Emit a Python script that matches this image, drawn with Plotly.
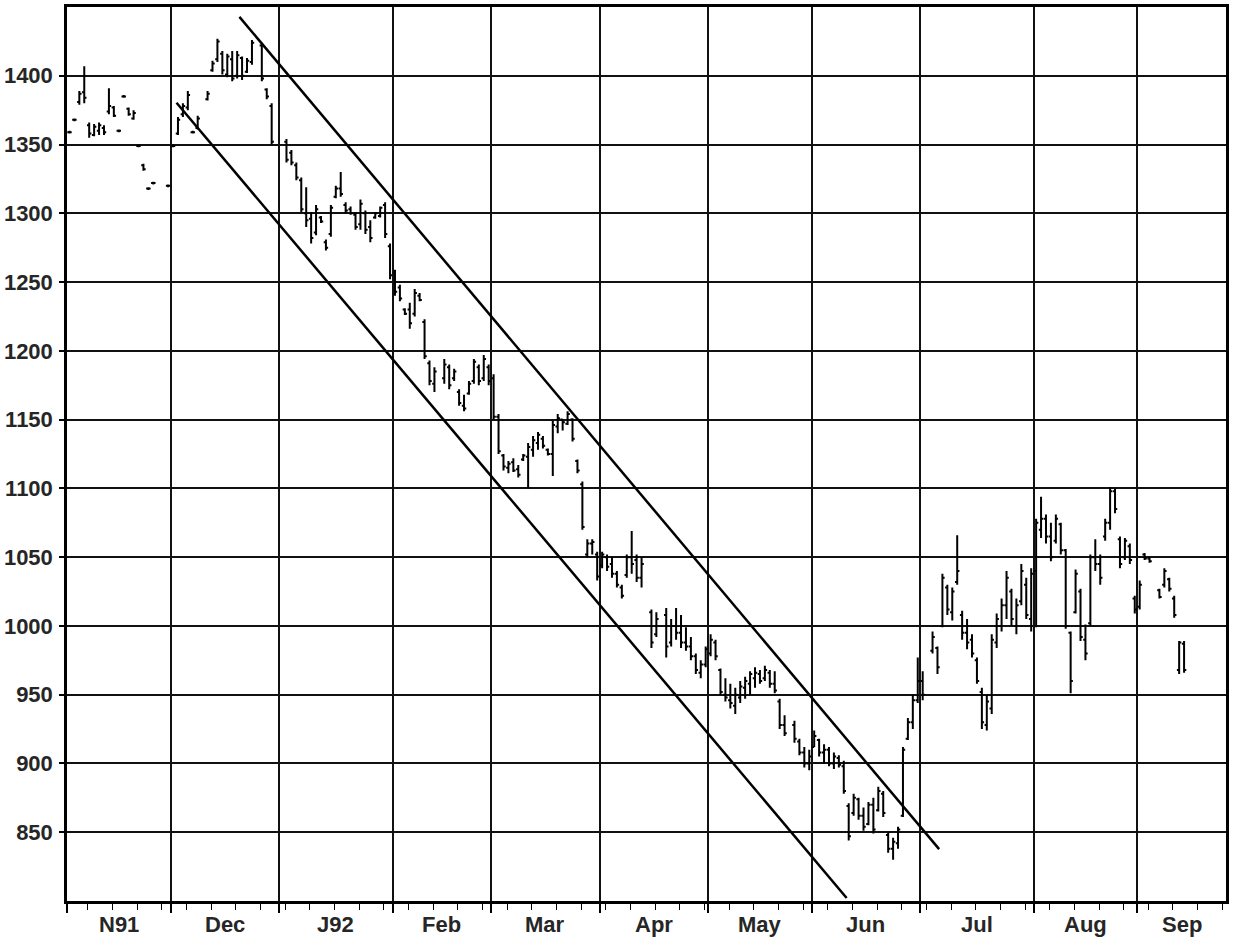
import plotly.graph_objects as go

# ---- daily bars (date, open, high, low, close) ----
dates = [
    # Nov 1991
    "1991-11-01", "1991-11-04", "1991-11-05", "1991-11-06", "1991-11-07", "1991-11-08", "1991-11-11",
    "1991-11-12", "1991-11-13", "1991-11-14", "1991-11-15", "1991-11-18", "1991-11-19", "1991-11-20",
    "1991-11-21", "1991-11-22", "1991-11-25", "1991-11-26", "1991-11-29",
    # Dec 1991
    "1991-12-02", "1991-12-03", "1991-12-04", "1991-12-05", "1991-12-06", "1991-12-09", "1991-12-11",
    "1991-12-12", "1991-12-13", "1991-12-16", "1991-12-17", "1991-12-18", "1991-12-19", "1991-12-20",
    "1991-12-23", "1991-12-24", "1991-12-26", "1991-12-27", "1991-12-30",
    # Jan 1992
    "1992-01-02", "1992-01-03", "1992-01-06", "1992-01-07", "1992-01-08", "1992-01-09", "1992-01-10",
    "1992-01-13", "1992-01-14", "1992-01-15", "1992-01-16", "1992-01-17", "1992-01-20", "1992-01-21",
    "1992-01-22", "1992-01-23", "1992-01-24", "1992-01-27", "1992-01-28", "1992-01-29", "1992-01-30",
    "1992-01-31",
    # Feb 1992
    "1992-02-03", "1992-02-04", "1992-02-05", "1992-02-06", "1992-02-07", "1992-02-10", "1992-02-11",
    "1992-02-12", "1992-02-13", "1992-02-17", "1992-02-18", "1992-02-19", "1992-02-20", "1992-02-21",
    "1992-02-24", "1992-02-25", "1992-02-26", "1992-02-27", "1992-02-28",
    # Mar 1992
    "1992-03-02", "1992-03-03", "1992-03-04", "1992-03-05", "1992-03-06", "1992-03-09", "1992-03-10",
    "1992-03-11", "1992-03-12", "1992-03-13", "1992-03-16", "1992-03-17", "1992-03-18", "1992-03-19",
    "1992-03-20", "1992-03-23", "1992-03-24", "1992-03-25", "1992-03-26", "1992-03-27", "1992-03-30",
    "1992-03-31",
    # Apr 1992
    "1992-04-01", "1992-04-02", "1992-04-03", "1992-04-06", "1992-04-07", "1992-04-08", "1992-04-09",
    "1992-04-10", "1992-04-13", "1992-04-15", "1992-04-16", "1992-04-20", "1992-04-21", "1992-04-22",
    "1992-04-23", "1992-04-24", "1992-04-27", "1992-04-28", "1992-04-29", "1992-04-30",
    # May 1992
    "1992-05-01", "1992-05-04", "1992-05-05", "1992-05-06", "1992-05-07", "1992-05-08", "1992-05-11",
    "1992-05-12", "1992-05-13", "1992-05-14", "1992-05-15", "1992-05-18", "1992-05-19", "1992-05-20",
    "1992-05-21", "1992-05-22", "1992-05-26", "1992-05-27", "1992-05-28", "1992-05-29",
    # Jun 1992
    "1992-06-01", "1992-06-02", "1992-06-03", "1992-06-04", "1992-06-05", "1992-06-08", "1992-06-09",
    "1992-06-10", "1992-06-11", "1992-06-12", "1992-06-15", "1992-06-16", "1992-06-17", "1992-06-18",
    "1992-06-19", "1992-06-22", "1992-06-23", "1992-06-24", "1992-06-25", "1992-06-26", "1992-06-29",
    "1992-06-30",
    # Jul 1992
    "1992-07-01", "1992-07-03", "1992-07-06", "1992-07-07", "1992-07-08", "1992-07-09", "1992-07-10",
    "1992-07-13", "1992-07-14", "1992-07-15", "1992-07-16", "1992-07-17", "1992-07-20", "1992-07-21",
    "1992-07-22", "1992-07-23", "1992-07-24", "1992-07-27", "1992-07-28", "1992-07-29", "1992-07-30",
    "1992-07-31",
    # Aug 1992
    "1992-08-03", "1992-08-04", "1992-08-05", "1992-08-06", "1992-08-07", "1992-08-10", "1992-08-11",
    "1992-08-12", "1992-08-13", "1992-08-14", "1992-08-17", "1992-08-18", "1992-08-19", "1992-08-20",
    "1992-08-21", "1992-08-24", "1992-08-25", "1992-08-26", "1992-08-27", "1992-08-28", "1992-08-31",
    # Sep 1992
    "1992-09-01", "1992-09-02", "1992-09-03", "1992-09-07", "1992-09-08", "1992-09-09", "1992-09-10",
    "1992-09-11", "1992-09-14",
]

highs = [
    1360, 1369, 1389, 1407, 1366, 1365, 1366, 1364, 1391, 1378, 1361, 1386, 1377, 1375, 1350, 1336, 1319, 1323, 1321,
    1350, 1370, 1380, 1389, 1360, 1371, 1389, 1411, 1427, 1418, 1416, 1418, 1418, 1414, 1413, 1426, 1424, 1391, 1380,
    1354, 1346, 1337, 1326, 1319, 1301, 1306, 1298, 1281, 1306, 1320, 1330, 1308, 1305, 1301, 1310, 1302, 1295, 1301,
    1305, 1308, 1278,
    1259, 1248, 1231, 1235, 1245, 1242, 1223, 1193, 1188, 1194, 1190, 1187, 1172, 1168, 1178, 1194, 1190, 1197, 1190,
    1183, 1154, 1125, 1120, 1122, 1117, 1125, 1133, 1138, 1141, 1138, 1129, 1149, 1154, 1150, 1156, 1151, 1121, 1105,
    1063, 1063, 1054,
    1054, 1052, 1050, 1040, 1030, 1052, 1069, 1052, 1050, 1012, 1010, 1013, 1005, 1013, 1008, 999, 992, 980, 975, 985,
    994, 990, 969, 962, 958, 955, 960, 963, 967, 970, 968, 971, 968, 967, 947, 935, 931, 918, 912, 910,
    924, 918, 914, 912, 908, 906, 902, 871, 878, 875, 868, 872, 875, 883, 880, 850, 846, 854, 912, 933, 950, 977,
    967, 996, 985, 1038, 1030, 1028, 1066, 1011, 1005, 994, 977, 955, 950, 994, 1009, 1020, 1040, 1027, 1020, 1045,
    1035, 1042,
    1078, 1094, 1081, 1075, 1081, 1075, 1056, 996, 1041, 1027, 1001, 1052, 1063, 1052, 1078, 1101, 1100, 1065, 1064,
    1060, 1022,
    1033, 1053, 1050, 1027, 1042, 1035, 1022, 989, 989,
]

lows = [
    1358, 1367, 1379, 1380, 1355, 1356, 1357, 1357, 1372, 1370, 1359, 1384, 1371, 1368, 1348, 1331, 1317, 1321, 1319,
    1348, 1357, 1370, 1375, 1358, 1361, 1382, 1403, 1410, 1401, 1399, 1396, 1398, 1397, 1402, 1408, 1396, 1383, 1350,
    1337, 1335, 1324, 1301, 1290, 1278, 1284, 1293, 1273, 1283, 1311, 1312, 1300, 1299, 1288, 1288, 1285, 1279, 1296,
    1297, 1282, 1252,
    1240, 1236, 1226, 1216, 1225, 1236, 1194, 1175, 1170, 1176, 1172, 1178, 1160, 1156, 1168, 1176, 1175, 1178, 1175,
    1150, 1125, 1113, 1111, 1112, 1108, 1120, 1100, 1123, 1128, 1129, 1124, 1109, 1140, 1142, 1146, 1134, 1111, 1070,
    1050, 1052, 1033,
    1042, 1040, 1035, 1028, 1020, 1035, 1038, 1032, 1028, 984, 992, 977, 985, 990, 984, 982, 975, 965, 962, 970,
    978, 975, 950, 945, 940, 936, 944, 947, 950, 955, 958, 960, 955, 951, 925, 920, 915, 906, 897, 895,
    912, 905, 900, 898, 896, 897, 878, 844, 862, 859, 851, 855, 849, 865, 861, 835, 830, 838, 861, 917, 925, 944,
    946, 980, 965, 999, 1008, 1004, 1030, 990, 983, 977, 958, 925, 924, 936, 984, 996, 1005, 1000, 994, 1015,
    1005, 996,
    999, 1064, 1060, 1047, 1060, 1052, 998, 951, 1009, 989, 975, 1000, 1040, 1030, 1062, 1070, 1082, 1042, 1048,
    1045, 1009,
    1012, 1048, 1046, 1020, 1028, 1025, 1006, 965, 966,
]

opens = [
    1359, 1368, 1381, 1388, 1364, 1357, 1360, 1362, 1374, 1377, 1360, 1385, 1376, 1369, 1349, 1335, 1318, 1322, 1320,
    1349, 1358, 1372, 1377, 1359, 1362, 1383, 1404, 1412, 1416, 1401, 1412, 1400, 1413, 1403, 1410, 1422, 1390, 1378,
    1352, 1344, 1335, 1324, 1300, 1296, 1286, 1297, 1279, 1285, 1312, 1318, 1306, 1303, 1299, 1292, 1300, 1290, 1297,
    1298, 1306, 1276,
    1257, 1246, 1230, 1230, 1227, 1240, 1221, 1191, 1176, 1180, 1188, 1180, 1170, 1160, 1169, 1178, 1188, 1180, 1188,
    1180, 1152, 1124, 1115, 1119, 1114, 1121, 1123, 1128, 1133, 1136, 1128, 1125, 1145, 1150, 1147, 1150, 1120, 1103,
    1052, 1060, 1052,
    1044, 1050, 1045, 1038, 1028, 1037, 1050, 1048, 1035, 1010, 994, 1008, 988, 1000, 995, 988, 985, 978, 966, 972,
    980, 988, 968, 950, 946, 942, 948, 955, 958, 962, 965, 962, 966, 958, 945, 928, 928, 916, 908, 900,
    912, 917, 908, 910, 900, 904, 898, 869, 864, 874, 862, 856, 870, 866, 878, 848, 838, 842, 862, 918, 930, 946,
    960, 982, 984, 1000, 1028, 1010, 1032, 1008, 995, 990, 975, 952, 928, 940, 988, 1000, 1015, 1025, 1000, 1018,
    1030, 1005,
    1040, 1070, 1078, 1065, 1062, 1074, 1055, 995, 1010, 1025, 990, 1002, 1050, 1045, 1065, 1075, 1098, 1063, 1050,
    1058, 1020,
    1014, 1052, 1049, 1026, 1030, 1034, 1020, 968, 987,
]

closes = [
    1359, 1368, 1387, 1384, 1358, 1363, 1364, 1359, 1378, 1371, 1360, 1385, 1372, 1373, 1349, 1332, 1318, 1322, 1320,
    1349, 1368, 1378, 1386, 1359, 1369, 1387, 1409, 1425, 1404, 1414, 1398, 1415, 1400, 1411, 1424, 1398, 1385, 1352,
    1339, 1337, 1326, 1303, 1295, 1282, 1303, 1294, 1275, 1304, 1318, 1314, 1302, 1300, 1290, 1307, 1288, 1282, 1300,
    1304, 1285, 1255,
    1243, 1238, 1227, 1220, 1242, 1237, 1196, 1178, 1185, 1190, 1175, 1185, 1162, 1158, 1176, 1192, 1178, 1194, 1178,
    1152, 1127, 1116, 1118, 1113, 1110, 1124, 1130, 1135, 1139, 1131, 1125, 1146, 1151, 1148, 1154, 1136, 1113, 1072,
    1060, 1061, 1036,
    1052, 1043, 1038, 1030, 1022, 1050, 1045, 1035, 1045, 988, 1005, 985, 1000, 995, 988, 985, 978, 968, 972, 983,
    990, 978, 952, 948, 944, 950, 956, 960, 965, 966, 960, 968, 958, 953, 928, 922, 918, 908, 900, 905,
    920, 908, 910, 900, 905, 899, 880, 847, 875, 862, 854, 870, 852, 880, 864, 838, 843, 852, 910, 930, 946, 960,
    950, 992, 970, 1035, 1012, 1025, 1040, 995, 988, 980, 960, 930, 945, 990, 1005, 1015, 1035, 1005, 1015, 1040,
    1008, 1038,
    1075, 1078, 1065, 1050, 1078, 1055, 1000, 960, 1038, 992, 980, 1050, 1045, 1035, 1075, 1098, 1085, 1045, 1062,
    1048, 1012,
    1030, 1049, 1047, 1021, 1040, 1027, 1008, 988, 968,
]

assert len(dates) == len(highs) == len(lows) == len(opens) == len(closes)

# ---- drawn trend channel (end points) ----
upper_channel_x = ["1991-12-19 23:00", "1992-07-06 20:00"]
upper_channel_y = [1442.8, 837.7]
lower_channel_x = ["1991-12-03 05:00", "1992-06-10 02:00"]
lower_channel_y = [1380.4, 802.2]

# ---- axis labelling ----
month_starts = ["1991-11-01", "1991-12-02", "1992-01-01", "1992-02-03", "1992-03-02", "1992-04-01",
                "1992-05-01", "1992-06-01", "1992-07-01", "1992-08-03", "1992-09-01"]
month_label_pos = ["1991-11-15 12:00", "1991-12-17 00:00", "1992-01-16 12:00", "1992-02-17 00:00",
                   "1992-03-17 00:00", "1992-04-16 00:00", "1992-05-15 12:00", "1992-06-16 00:00",
                   "1992-07-16 12:00", "1992-08-17 12:00", "1992-09-14 00:00"]
month_labels = ["N91", "Dec", "J92", "Feb", "Mar", "Apr", "May", "Jun", "Jul", "Aug", "Sep"]
y_ticks = [850, 900, 950, 1000, 1050, 1100, 1150, 1200, 1250, 1300, 1350, 1400]

x_bars = [d + " 12:00" for d in dates]

fig = go.Figure()
fig.add_trace(go.Ohlc(
    x=x_bars, open=opens, high=highs, low=lows, close=closes,
    increasing=dict(line=dict(color="black", width=2)),
    decreasing=dict(line=dict(color="black", width=2)),
    tickwidth=0.45, showlegend=False, hoverinfo="skip",
))
fig.add_trace(go.Scatter(x=upper_channel_x, y=upper_channel_y, mode="lines",
                         line=dict(color="black", width=2.5), showlegend=False, hoverinfo="skip"))
fig.add_trace(go.Scatter(x=lower_channel_x, y=lower_channel_y, mode="lines",
                         line=dict(color="black", width=2.5), showlegend=False, hoverinfo="skip"))

label_font = dict(family="Liberation Sans, Arial, sans-serif", size=22, color="#262626", weight="bold")

for pos, txt in zip(month_label_pos, month_labels):
    fig.add_annotation(x=pos, xref="x", y=-0.026, yref="paper", text=txt, showarrow=False,
                       xanchor="center", yanchor="middle", font=label_font)

fig.update_layout(
    width=1233, height=938,
    margin=dict(l=66, r=6, t=4, b=37),
    paper_bgcolor="white", plot_bgcolor="white",
    showlegend=False,
    xaxis=dict(
        type="date",
        range=["1991-11-01", "1992-09-25"],
        rangebreaks=[dict(bounds=["sat", "mon"])],
        rangeslider=dict(visible=False),
        tickmode="array", tickvals=month_starts, showticklabels=False,
        ticks="outside", ticklen=9, tickwidth=1.5, tickcolor="black",
        showgrid=True, gridcolor="#111111", gridwidth=1.6,
        showline=True, linecolor="black", linewidth=2.5, mirror=True, zeroline=False,
        minor=dict(tickmode="linear", tick0="1991-11-07 06:00", dtick=7 * 86400000,
                   ticks="outside", ticklen=6, tickwidth=1.3, tickcolor="black", showgrid=False),
    ),
    yaxis=dict(
        range=[800, 1450],
        tickmode="array", tickvals=y_ticks,
        ticks="outside", ticklen=5, tickwidth=1.5, tickcolor="black",
        tickfont=label_font, ticklabelstandoff=2,
        showgrid=True, gridcolor="#111111", gridwidth=1.6,
        showline=True, linecolor="black", linewidth=2.5, mirror=True, zeroline=False,
    ),
)

fig.write_html("out.html", config={"displayModeBar": False},
               post_script="document.body.style.margin='0';")
